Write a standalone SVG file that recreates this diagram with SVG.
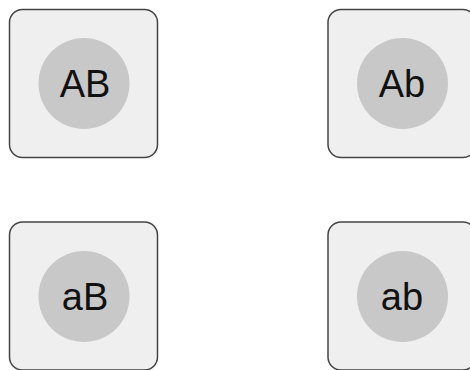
<svg xmlns="http://www.w3.org/2000/svg" width="470" height="370" viewBox="0 0 470 370">
<style>
.box{fill:#efefef;stroke:#444;stroke-width:1.5}
.dot{fill:#c8c8c8}
.lbl{font-family:"Liberation Sans",Arial,sans-serif;font-size:38px;fill:#111;text-anchor:middle}
</style>
<rect width="470" height="370" fill="#fff"/>
<g id="connectors"></g>
<g id="node-AB">
<rect class="box" x="9.5" y="9.5" width="148" height="148" rx="13"/>
<circle class="dot" cx="84" cy="83.5" r="45.5"/>
<text class="lbl" x="85" y="97">AB</text>
</g>
<g id="node-Ab">
<rect class="box" x="328" y="9.5" width="148" height="148" rx="13"/>
<circle class="dot" cx="402.5" cy="83.5" r="45.5"/>
<text class="lbl" x="402" y="97">Ab</text>
</g>
<g id="node-aB">
<rect class="box" x="9.5" y="222" width="148" height="148" rx="13"/>
<circle class="dot" cx="84" cy="296.5" r="45.5"/>
<text class="lbl" x="85" y="310">aB</text>
</g>
<g id="node-ab">
<rect class="box" x="328" y="222" width="148" height="148" rx="13"/>
<circle class="dot" cx="402.5" cy="296.5" r="45.5"/>
<text class="lbl" x="402" y="310">ab</text>
</g>
</svg>
